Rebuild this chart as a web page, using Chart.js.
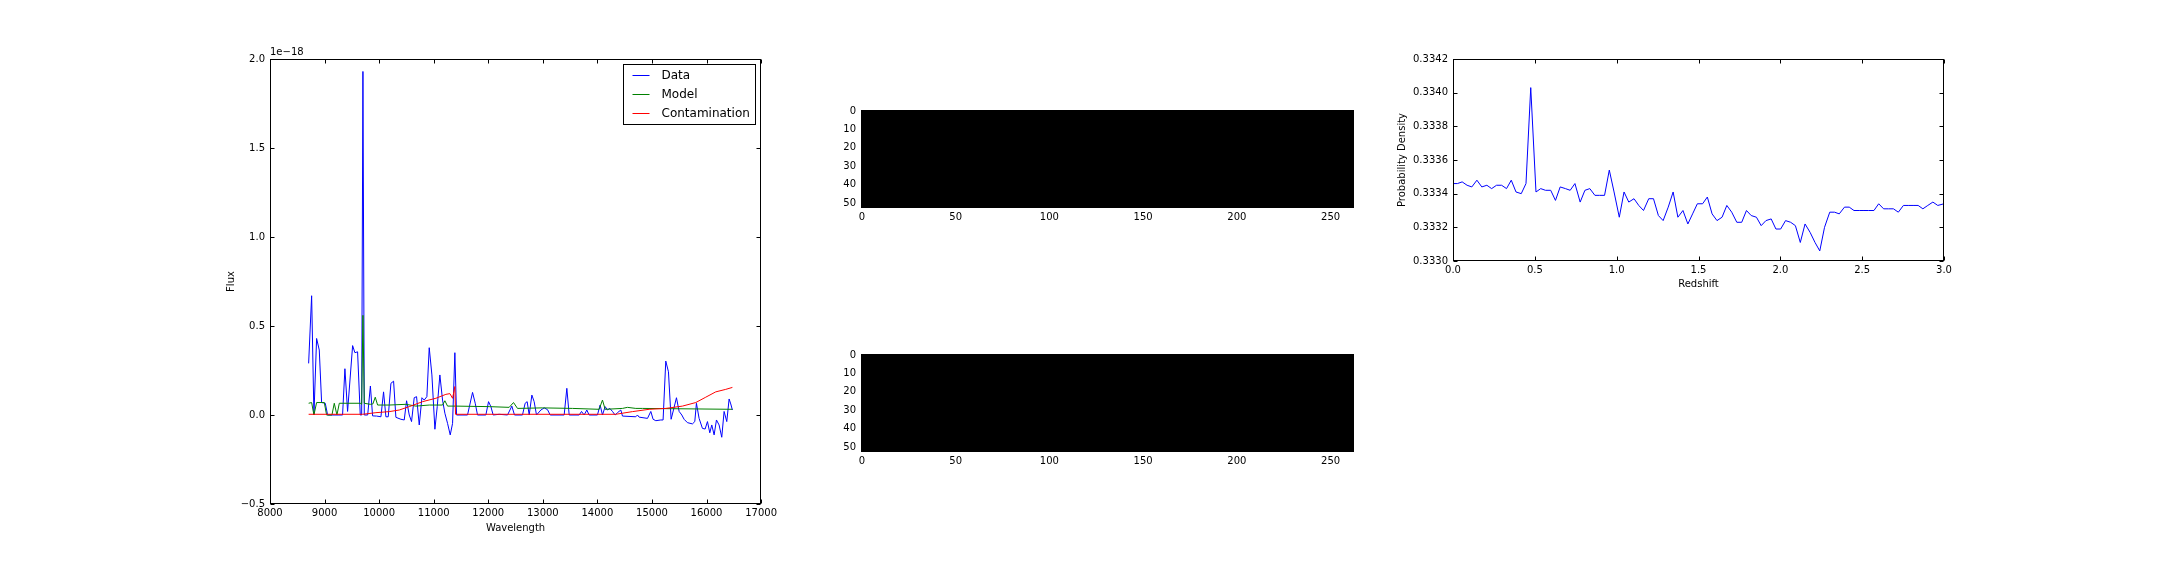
<!DOCTYPE html>
<html>
<head>
<meta charset="utf-8">
<script src="https://cdn.jsdelivr.net/npm/chart.js@4.4.1/dist/chart.umd.min.js"></script>
<style>
  body { margin: 0; width: 2160px; height: 576px; background: #fff; position: relative; overflow: hidden; }
  canvas { position: absolute; }
</style>
</head>
<body>
<canvas id="spec" width="580" height="530" style="left:200px;top:20px"></canvas>
<canvas id="img1" width="580" height="140" style="left:800px;top:90px"></canvas>
<canvas id="img2" width="580" height="140" style="left:800px;top:334px"></canvas>
<canvas id="pdf" width="580" height="270" style="left:1380px;top:30px"></canvas>
<script>
// spectrum (flux in units of 1e-18)
const dataWave = [8708, 8763, 8805, 8854, 8903, 8946, 9013, 9056, 9330, 9373, 9422, 9514, 9556, 9605, 9654, 9680, 9703, 9728, 9790, 9840, 9880, 9953, 10033, 10081, 10124, 10167, 10216, 10265, 10307, 10399, 10460, 10503, 10552, 10594, 10643, 10686, 10735, 10784, 10826, 10875, 10918, 10967, 11022, 11065, 11113, 11162, 11205, 11254, 11303, 11346, 11388, 11419, 11620, 11712, 11761, 11803, 11956, 12005, 12048, 12090, 12200, 12353, 12432, 12481, 12627, 12676, 12713, 12750, 12799, 12841, 12884, 12964, 13025, 13086, 13135, 13391, 13440, 13483, 13666, 13709, 13757, 13806, 13849, 14001, 14050, 14093, 14142, 14185, 14228, 14276, 14325, 14368, 14429, 14460, 14704, 14734, 14765, 14918, 14979, 15021, 15070, 15162, 15204, 15253, 15302, 15351, 15394, 15449, 15498, 15547, 15589, 15650, 15742, 15785, 15815, 15864, 15925, 15974, 16017, 16060, 16096, 16139, 16182, 16230, 16279, 16322, 16371, 16414, 16444, 16474]
const dataFlux = [0.29, 0.67, 0.0, 0.43, 0.365, 0.07, 0.066, 0.0, 0.0, 0.26, 0.02, 0.39, 0.35, 0.355, 0.0, 0.0, 1.93, 0.0, 0.0, 0.163, -0.005, -0.006, -0.01, 0.13, -0.01, -0.01, 0.178, 0.19, -0.013, -0.024, -0.028, 0.08, 0.0, -0.037, 0.097, 0.103, -0.056, 0.097, 0.084, 0.103, 0.378, 0.225, -0.08, 0.047, 0.225, 0.084, 0.01, -0.047, -0.112, -0.047, 0.35, 0.0, 0.0, 0.127, 0.066, 0.0, 0.0, 0.075, 0.047, 0.0, 0.004, 0.0, 0.05, 0.0, 0.0, 0.066, 0.075, 0.0, 0.112, 0.075, 0.0, 0.028, 0.04, 0.03, 0.0, 0.0, 0.15, 0.0, 0.0, 0.02, 0.0, 0.028, 0.0, 0.0, 0.056, 0.0, 0.047, 0.028, 0.037, 0.02, 0.0, 0.013, 0.028, -0.006, -0.01, 0.0, -0.012, -0.019, 0.02, -0.024, -0.032, -0.028, -0.028, 0.303, 0.243, -0.024, 0.028, 0.097, 0.02, 0.0, -0.024, -0.043, -0.05, -0.037, 0.066, -0.019, -0.075, -0.079, -0.037, -0.1, -0.056, -0.112, -0.028, -0.056, -0.125, 0.02, -0.037, 0.09, 0.062, 0.028]
const modelWave = [8708, 8763, 8805, 8854, 8995, 9037, 9135, 9178, 9227, 9270, 9654, 9680, 9703, 9728, 9837, 9885, 9929, 9972, 10185, 10491, 10674, 10918, 11162, 11205, 11254, 11406, 12017, 12383, 12463, 12536, 12994, 13544, 14032, 14093, 14142, 14460, 14551, 14704, 14826, 16474]
const modelFlux = [0.066, 0.07, 0.0, 0.07, 0.07, 0.0, 0.0, 0.066, 0.0, 0.066, 0.066, 0.06, 0.56, 0.066, 0.06, 0.062, 0.10, 0.056, 0.056, 0.06, 0.05, 0.056, 0.056, 0.08, 0.05, 0.05, 0.047, 0.043, 0.07, 0.037, 0.04, 0.037, 0.032, 0.084, 0.032, 0.037, 0.043, 0.037, 0.037, 0.032]
const contamWave = [8708, 9697, 9941, 10185, 10368, 10552, 10796, 11040, 11223, 11297, 11346, 11388, 11400, 14337, 14643, 14948, 15253, 15559, 15803, 15986, 16169, 16352, 16474]
const contamFlux = [0.004, 0.004, 0.013, 0.019, 0.028, 0.047, 0.075, 0.094, 0.116, 0.12, 0.094, 0.16, 0.004, 0.004, 0.019, 0.032, 0.037, 0.05, 0.07, 0.1, 0.13, 0.144, 0.155]

const specXTicks = [8000, 9000, 10000, 11000, 12000, 13000, 14000, 15000, 16000, 17000]
const specXLabels = ['8000', '9000', '10000', '11000', '12000', '13000', '14000', '15000', '16000', '17000']
const specYTicks = [-0.5, 0, 0.5, 1.0, 1.5, 2.0]
const specYLabels = ['\u22120.5', '0.0', '0.5', '1.0', '1.5', '2.0']

// two all-black images (263 x 53 pixels)
const imgCols = 263
const imgRows = 53
const imgXTicks = [0, 50, 100, 150, 200, 250]
const imgXLabels = ['0', '50', '100', '150', '200', '250']
const imgYTicks = [0, 10, 20, 30, 40, 50]
const imgYLabels = ['0', '10', '20', '30', '40', '50']

// redshift probability density
const zGrid = [0.0, 0.027, 0.056, 0.086, 0.115, 0.146, 0.176, 0.207, 0.236, 0.266, 0.297, 0.327, 0.356, 0.385, 0.417, 0.446, 0.475, 0.507, 0.536, 0.565, 0.597, 0.626, 0.655, 0.687, 0.716, 0.745, 0.777, 0.806, 0.836, 0.867, 0.896, 0.926, 0.955, 0.984, 1.016, 1.045, 1.074, 1.106, 1.135, 1.164, 1.196, 1.225, 1.255, 1.284, 1.315, 1.345, 1.374, 1.405, 1.435, 1.464, 1.493, 1.525, 1.554, 1.583, 1.613, 1.644, 1.673, 1.703, 1.734, 1.764, 1.793, 1.822, 1.854, 1.883, 1.912, 1.944, 1.973, 2.002, 2.032, 2.063, 2.092, 2.122, 2.151, 2.182, 2.212, 2.241, 2.270, 2.302, 2.331, 2.36, 2.392, 2.421, 2.450, 2.482, 2.511, 2.54, 2.572, 2.601, 2.631, 2.662, 2.691, 2.721, 2.752, 2.781, 2.811, 2.842, 2.871, 2.901, 2.932, 2.962, 3.0]
const pz = [0.33346, 0.33346, 0.33347, 0.33345, 0.33344, 0.33348, 0.33344, 0.33345, 0.33343, 0.33345, 0.33345, 0.33343, 0.33348, 0.33341, 0.33340, 0.33346, 0.33403, 0.33341, 0.33343, 0.33342, 0.33342, 0.33336, 0.33344, 0.33343, 0.33342, 0.33346, 0.33335, 0.33342, 0.33343, 0.33339, 0.33339, 0.33339, 0.33354, 0.33341, 0.33326, 0.33341, 0.33335, 0.33337, 0.33333, 0.33330, 0.33337, 0.33337, 0.33327, 0.33324, 0.33332, 0.33341, 0.33326, 0.33330, 0.33322, 0.33328, 0.33334, 0.33334, 0.33338, 0.33328, 0.33324, 0.33326, 0.33333, 0.33329, 0.33323, 0.33323, 0.33330, 0.33327, 0.33326, 0.33321, 0.33324, 0.33325, 0.33319, 0.33319, 0.33324, 0.33323, 0.33321, 0.33311, 0.33322, 0.33317, 0.33311, 0.33306, 0.33320, 0.33329, 0.33329, 0.33328, 0.33332, 0.33332, 0.33330, 0.33330, 0.33330, 0.33330, 0.33330, 0.33334, 0.33331, 0.33331, 0.33331, 0.33329, 0.33333, 0.33333, 0.33333, 0.33333, 0.33331, 0.33333, 0.33335, 0.33333, 0.33334]
const pdfXTicks = [0.0, 0.5, 1.0, 1.5, 2.0, 2.5, 3.0]
const pdfXLabels = ['0.0', '0.5', '1.0', '1.5', '2.0', '2.5', '3.0']
const pdfYTicks = [0.3330, 0.3332, 0.3334, 0.3336, 0.3338, 0.3340, 0.3342]
const pdfYLabels = ['0.3330', '0.3332', '0.3334', '0.3336', '0.3338', '0.3340', '0.3342']

Chart.defaults.font.family = '"DejaVu Sans", sans-serif'
Chart.defaults.font.size = 10
Chart.defaults.color = '#000'

function toPoints(xs, ys) {
    return xs.map((x, i) => ({ x: x, y: ys[i] }))
}

function axis(min, max, tickValues, tickLabels, isY, fitSize, title, titlePad, reverse) {
    return {
        type: 'linear',
        min: min,
        max: max,
        reverse: !!reverse,
        grid: { display: false, drawTicks: false },
        border: { display: false },
        ticks: {
            autoSkip: false,
            maxRotation: 0,
            padding: isY ? 5 : 3,
            color: '#000',
            callback: (v, i) => tickLabels[i]
        },
        title: {
            display: !!title,
            text: title || '',
            color: '#000',
            font: { size: 10 },
            padding: isY ? { top: titlePad, bottom: 0 } : { top: 0, bottom: titlePad }
        },
        afterBuildTicks: s => { s.ticks = tickValues.map(v => ({ value: v })) },
        afterFit: s => {
            if (isY) s.width = fitSize
            else s.height = fitSize
        }
    }
}

// matplotlib style frame with inward ticks on all four sides
const frameTicks = {
    id: 'frameTicks',
    afterDatasetsDraw(chart) {
        const { ctx, chartArea: a, scales } = chart
        const L = Math.round(a.left) + 0.5, R = Math.round(a.right) - 0.5
        const T = Math.round(a.top) + 0.5, B = Math.round(a.bottom) - 0.5
        ctx.save()
        ctx.strokeStyle = '#000'
        ctx.lineWidth = 1
        ctx.beginPath()
        scales.x.ticks.forEach(t => {
            const px = Math.round(scales.x.getPixelForValue(t.value)) + 0.5
            ctx.moveTo(px, B); ctx.lineTo(px, B - 4)
            ctx.moveTo(px, T); ctx.lineTo(px, T + 4)
        })
        scales.y.ticks.forEach(t => {
            const py = Math.round(scales.y.getPixelForValue(t.value)) + 0.5
            ctx.moveTo(L, py); ctx.lineTo(L + 4, py)
            ctx.moveTo(R, py); ctx.lineTo(R - 4, py)
        })
        ctx.stroke()
        ctx.strokeRect(L, T, R - L, B - T)
        ctx.restore()
    }
}

const boxLegend = {
    id: 'boxLegend',
    afterDraw(chart) {
        const { ctx, chartArea: a } = chart
        const sets = chart.data.datasets
        ctx.save()
        ctx.font = '12px "DejaVu Sans"'
        const textW = Math.max(...sets.map(d => ctx.measureText(d.label).width))
        const w = Math.round(9 + 17 + 12 + textW + 6), h = 60
        const x0 = Math.round(a.right - 6 - w) + 0.5, y0 = Math.round(a.top + 5) + 0.5
        ctx.fillStyle = '#fff'
        ctx.fillRect(x0, y0, w, h)
        ctx.strokeStyle = '#000'
        ctx.lineWidth = 1
        ctx.strokeRect(x0, y0, w, h)
        sets.forEach((d, i) => {
            const y = Math.round(y0 + 10 + i * 19) + 0.5
            ctx.strokeStyle = d.borderColor
            ctx.beginPath(); ctx.moveTo(x0 + 9, y); ctx.lineTo(x0 + 26, y); ctx.stroke()
            ctx.fillStyle = '#000'
            ctx.textBaseline = 'middle'
            ctx.fillText(d.label, x0 + 38, y)
        })
        // offset text of the y axis
        ctx.font = '10px "DejaVu Sans"'
        ctx.textBaseline = 'alphabetic'
        ctx.fillText('1e\u221218', a.left, a.top - 4)
        ctx.restore()
    }
}

const common = {
    responsive: false,
    animation: false,
    events: [],
    elements: { point: { radius: 0 }, line: { tension: 0, borderWidth: 1 } },
    plugins: { legend: { display: false }, tooltip: { enabled: false } }
}

new Chart(document.getElementById('spec'), {
    type: 'line',
    data: {
        datasets: [
            { label: 'Data', data: toPoints(dataWave, dataFlux), borderColor: '#0000ff', borderWidth: 1, fill: false, order: 3 },
            { label: 'Model', data: toPoints(modelWave, modelFlux), borderColor: '#008000', borderWidth: 1, fill: false, order: 2 },
            { label: 'Contamination', data: toPoints(contamWave, contamFlux), borderColor: '#ff0000', borderWidth: 1, fill: false, order: 1 }
        ]
    },
    options: Object.assign({}, common, {
        layout: { padding: { top: 39, right: 18, left: 0, bottom: 0 } },
        scales: {
            x: axis(8000, 17000, specXTicks, specXLabels, false, 46, 'Wavelength', 16),
            y: axis(-0.5, 2.0, specYTicks, specYLabels, true, 70, 'Flux', 25)
        }
    }),
    plugins: [frameTicks, boxLegend]
})

function imagePanel(id) {
    // gray colormap, every pixel 0 -> black over the full image extent
    return new Chart(document.getElementById(id), {
        type: 'line',
        data: {
            datasets: [{
                data: [{ x: -0.5, y: -0.5 }, { x: imgCols - 0.5, y: -0.5 }],
                borderWidth: 0,
                borderColor: '#000000',
                backgroundColor: '#000000',
                fill: { value: imgRows - 0.5 }
            }]
        },
        options: Object.assign({}, common, {
            layout: { padding: { top: 20, right: 26, left: 0, bottom: 0 } },
            scales: {
                x: axis(-0.5, imgCols - 0.5, imgXTicks, imgXLabels, false, 22),
                y: axis(-0.5, imgRows - 0.5, imgYTicks, imgYLabels, true, 61, null, 0, true)
            }
        }),
        plugins: [frameTicks]
    })
}
imagePanel('img1')
imagePanel('img2')

new Chart(document.getElementById('pdf'), {
    type: 'line',
    data: {
        datasets: [{ label: 'P(z)', data: toPoints(zGrid, pz), borderColor: '#0000ff', borderWidth: 1, fill: false }]
    },
    options: Object.assign({}, common, {
        layout: { padding: { top: 29, right: 16, left: 0, bottom: 0 } },
        scales: {
            x: axis(0, 3.0, pdfXTicks, pdfXLabels, false, 39, 'Redshift', 10),
            y: axis(0.3330, 0.3342, pdfYTicks, pdfYLabels, true, 73, 'Probability Density', 16)
        }
    }),
    plugins: [frameTicks]
})
</script>
</body>
</html>
